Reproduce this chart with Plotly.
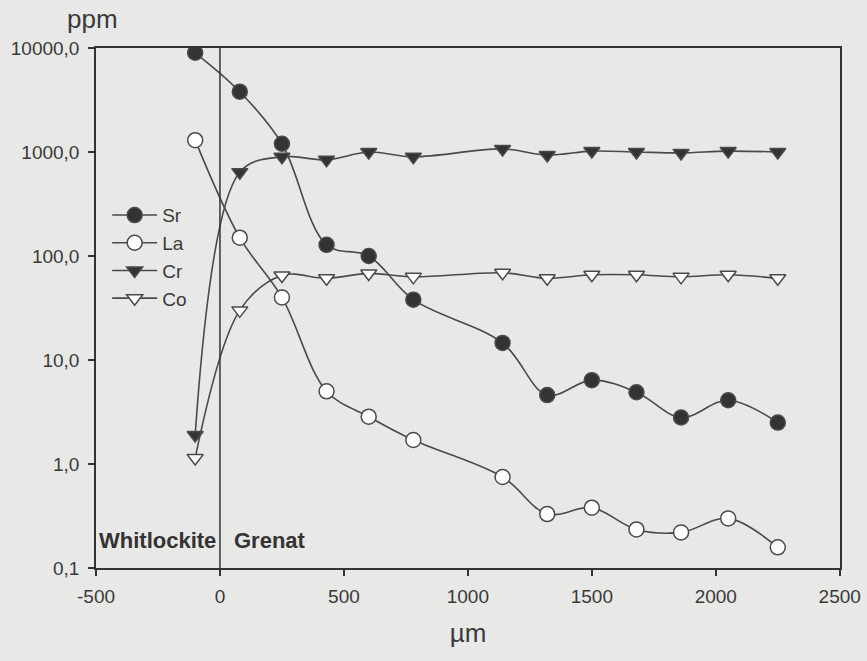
import plotly.graph_objects as go

# Data (distance in µm, concentrations in ppm)
x_um = [-100, 80, 250, 430, 600, 780, 1140, 1320, 1500, 1680, 1860, 2050, 2250]
sr = [9000, 3800, 1200, 128, 100, 38, 14.6, 4.6, 6.4, 4.9, 2.8, 4.1, 2.5]
la = [1300, 150, 40, 5.0, 2.85, 1.7, 0.75, 0.33, 0.38, 0.235, 0.22, 0.30, 0.158]
cr = [1.9, 640, 900, 840, 1000, 900, 1070, 935, 1020, 1000, 980, 1020, 1000]
co = [1.14, 30, 65, 61, 68, 63, 69, 61, 66, 66, 63, 66, 61]

y_tickvals = [0.1, 1, 10, 100, 1000, 10000]
y_ticktext = ["0,1", "1,0", "10,0", "100,0", "1000,0", "10000,0"]
x_tickvals = [-500, 0, 500, 1000, 1500, 2000, 2500]
x_ticktext = ["-500", "0", "500", "1000", "1500", "2000", "2500"]

BG = "#e8e8e6"
LINE = "#4a4a4a"
DARK = "#333333"
FONT = "Liberation Sans, Arial, sans-serif"

fig = go.Figure()

series = [
    ("Sr", sr, "circle", DARK, 15),
    ("La", la, "circle", "white", 15),
    ("Cr", cr, "triangle-down", DARK, 14),
    ("Co", co, "triangle-down", "white", 14),
]
for name, vals, sym, fill, size in series:
    fig.add_trace(go.Scatter(
        x=x_um, y=vals, name=name, mode="lines+markers",
        line=dict(color=LINE, width=1.6, shape="spline", smoothing=1.0),
        marker=dict(symbol=sym, size=size, color=fill,
                    line=dict(color=LINE, width=1.5)),
    ))

# boundary line at x = 0
fig.add_shape(type="line", xref="x", yref="paper", x0=0, x1=0, y0=0, y1=1,
              line=dict(color=DARK, width=1.5))

fig.add_annotation(x=-6, y=-0.74, xref="x", yref="y", text="<b>Whitlockite</b>",
                   showarrow=False, xanchor="right", yanchor="middle",
                   font=dict(family=FONT, size=22, color="#333333"))
fig.add_annotation(x=50, y=-0.74, xref="x", yref="y", text="<b>Grenat</b>",
                   showarrow=False, xanchor="left", yanchor="middle",
                   font=dict(family=FONT, size=22, color="#333333"))
fig.add_annotation(x=-0.042, y=1.0, xref="paper", yref="paper", text="ppm",
                   showarrow=False, xanchor="left", yanchor="bottom", yshift=12,
                   font=dict(family=FONT, size=26, color="#3a3a3a"))

fig.update_layout(
    width=867, height=661,
    margin=dict(l=96, r=27, t=48, b=93, autoexpand=False),
    paper_bgcolor=BG, plot_bgcolor=BG,
    font=dict(family=FONT, color="#3a3a3a", size=18),
    showlegend=True,
    legend=dict(x=0.015, y=0.715, xanchor="left", yanchor="top", itemwidth=45,
                bgcolor="rgba(0,0,0,0)", font=dict(size=19, family=FONT)),
    xaxis=dict(
        range=[-500, 2501], tickvals=x_tickvals, ticktext=x_ticktext,
        showgrid=False, zeroline=False, automargin=False,
        showline=True, linecolor=DARK, linewidth=1.5, mirror=True,
        ticks="outside", ticklen=6, tickcolor=DARK, tickwidth=1.5,
        ticklabeloverflow="allow", ticklabelstandoff=4,
        tickfont=dict(size=19), title=dict(text="µm", font=dict(size=26), standoff=18),
    ),
    yaxis=dict(
        type="log", range=[-1, 4], tickvals=y_tickvals, ticktext=y_ticktext,
        showgrid=False, zeroline=False, automargin=False,
        showline=True, linecolor=DARK, linewidth=1.5, mirror=True,
        ticks="outside", ticklen=6, tickcolor=DARK, tickwidth=1.5,
        ticklabelstandoff=5,
        tickfont=dict(size=19),
    ),
)

fig.write_html(
    "out.html",
    config={"displayModeBar": False},
    post_script="document.body.style.margin='0';document.body.style.background='#e8e8e6';",
)
